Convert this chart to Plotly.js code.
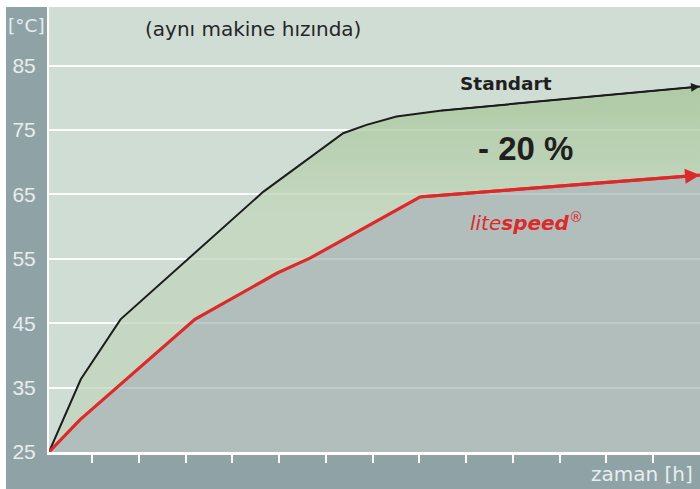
<!DOCTYPE html>
<html>
<head>
<meta charset="utf-8">
<script src="https://cdn.plot.ly/plotly-3.0.1.min.js"></script>
<style>
  html, body { margin: 0; padding: 0; background: #ffffff; }
  #chart { width: 700px; height: 489px; }
</style>
</head>
<body>
<div id="chart"></div>
<script>
// Time axis (hours) and temperatures (°C)
const timeStd  = [0.08, 0.76, 1.61, 4.66, 6.37, 6.87, 7.51, 8.44, 14.0];
const tempStd  = [25, 36.3, 45.6, 65.4, 74.5, 75.8, 77.1, 78.0, 81.75];
const timeLite = [0.08, 0.74, 3.20, 4.95, 5.66, 8.01, 14.0];
const tempLite = [25, 30.0, 45.6, 52.75, 55.1, 64.6, 68.0];

const yTicks = [25, 35, 45, 55, 65, 75, 85];
const xTicks = [1, 2, 3, 4, 5, 6, 7, 8, 9, 10, 11, 12, 13];

const labelStd = 'Standart';
const labelLite = '<i>lite<b>speed</b></i><sup>®</sup>';
const labelDiff = '- 20 %';
const labelNote = '(aynı makine hızında)';
const labelY = '[°C]';
const labelX = 'zaman [h]';

const panelGray = '#8fa3a7';
const textLight = '#e8eded';
const red = '#dc2a2a';

const nLite = timeLite.length, nStd = timeStd.length;

const traces = [
  { // gray area under litespeed curve
    x: timeLite, y: tempLite, mode: 'lines', line: { width: 0, color: 'rgba(0,0,0,0)' },
    fill: 'tozeroy', fillcolor: 'rgba(165,177,176,0.7)', hoverinfo: 'skip', showlegend: false
  },
  { // green band between curves, with Standart line
    x: timeStd, y: tempStd, mode: 'lines', line: { width: 2, color: '#1c1c1c' },
    fill: 'tonexty',
    fillgradient: {
      type: 'vertical', start: 45, stop: 82,
      colorscale: [[0, 'rgba(193,213,187,0.75)'], [0.45, 'rgba(195,214,188,0.75)'], [1, 'rgba(163,196,148,0.75)']]
    },
    hoverinfo: 'skip', showlegend: false
  },
  { // litespeed line on top
    x: timeLite, y: tempLite, mode: 'lines', line: { width: 3.2, color: red },
    hoverinfo: 'skip', showlegend: false
  }
];

const layout = {
  width: 700, height: 489,
  margin: { l: 49, r: 0, t: 7, b: 37, pad: 0 },
  paper_bgcolor: panelGray,
  plot_bgcolor: '#d0ddd5',
  showlegend: false,
  font: { family: 'DejaVu Sans, sans-serif', color: textLight },
  xaxis: {
    range: [0.08, 14], tickvals: xTicks, showticklabels: false,
    ticks: 'outside', ticklen: 8, tickwidth: 2, tickcolor: '#ffffff',
    showgrid: false, zeroline: false,
    showline: true, linecolor: '#ffffff', linewidth: 3, fixedrange: true
  },
  yaxis: {
    range: [25, 94.1], tickvals: yTicks, ticktext: yTicks.map(String),
    ticks: '', showgrid: true, gridcolor: '#ffffff', gridwidth: 2,
    zeroline: false, showline: true, linecolor: '#ffffff', linewidth: 2,
    tickfont: { family: 'Liberation Sans, Arial, sans-serif', size: 21, color: textLight },
    ticklabelstandoff: 7, fixedrange: true
  },
  shapes: [
    { type: 'rect', xref: 'paper', yref: 'paper', x0: -0.1, x1: (6 - 49) / 651, y0: -0.2, y1: 1.1,
      fillcolor: '#ffffff', line: { width: 0 }, layer: 'above' },
    { type: 'rect', xref: 'paper', yref: 'paper', x0: -0.1, x1: 1.1, y0: 1, y1: 1.1,
      fillcolor: '#ffffff', line: { width: 0 }, layer: 'above' }
  ],
  annotations: [
    { text: labelNote, xref: 'paper', yref: 'paper', x: 0.1444, y: 0.9506, xanchor: 'left', yanchor: 'middle',
      showarrow: false, font: { family: 'DejaVu Sans, sans-serif', size: 20, color: '#262626' } },
    { text: labelStd, xref: 'paper', yref: 'paper', x: 0.702, y: 0.829, xanchor: 'center', yanchor: 'middle',
      showarrow: false, font: { family: 'DejaVu Sans, sans-serif', size: 18.5, color: '#1f1f1f', weight: 'bold' } },
    { text: '<b>' + labelDiff + '</b>', xref: 'paper', yref: 'paper', x: 0.732, y: 0.681, xanchor: 'center', yanchor: 'middle',
      showarrow: false, font: { family: 'Liberation Sans, Arial, sans-serif', size: 33, color: '#1f1f1f' } },
    { text: labelLite, xref: 'paper', yref: 'paper', x: 0.733, y: 0.517, xanchor: 'center', yanchor: 'middle',
      showarrow: false, font: { family: 'DejaVu Sans, sans-serif', size: 20, color: red } },
    { text: labelY, xref: 'paper', yref: 'paper', x: (26.5 - 49) / 651, y: 0.958, xanchor: 'center', yanchor: 'middle',
      showarrow: false, font: { family: 'DejaVu Sans, sans-serif', size: 18.5, color: textLight } },
    { text: labelX, xref: 'paper', yref: 'paper', x: 0.992, y: -0.0494, xanchor: 'right', yanchor: 'middle',
      showarrow: false, font: { family: 'DejaVu Sans, sans-serif', size: 20, color: textLight } },
    { // arrowhead at end of Standart line
      text: '', x: timeStd[nStd - 1], y: tempStd[nStd - 1], xref: 'x', yref: 'y',
      ax: timeStd[nStd - 2], ay: tempStd[nStd - 2], axref: 'x', ayref: 'y',
      showarrow: true, arrowhead: 2, arrowsize: 1.2, arrowwidth: 1.5, arrowcolor: '#1c1c1c', standoff: 0
    },
    { // arrowhead at end of litespeed line
      text: '', x: timeLite[nLite - 1], y: tempLite[nLite - 1], xref: 'x', yref: 'y',
      ax: timeLite[nLite - 2], ay: tempLite[nLite - 2], axref: 'x', ayref: 'y',
      showarrow: true, arrowhead: 2, arrowsize: 1, arrowwidth: 3, arrowcolor: red, standoff: 0
    }
  ]
};

Plotly.newPlot('chart', traces, layout, { staticPlot: true, displayModeBar: false });
</script>
</body>
</html>
